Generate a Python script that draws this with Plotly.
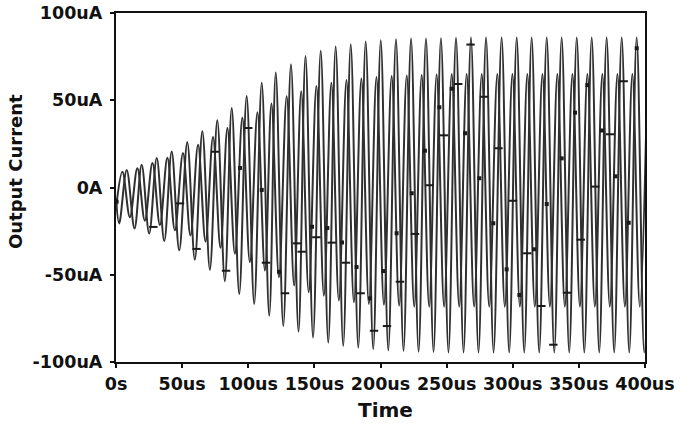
import plotly.graph_objects as go

# Time axis in microseconds, current in microamps.

# Trace A (larger swing): peak times / values and trough times / values
a_peak_t = [8.1, 19.4, 30.8, 42.1, 53.9, 65.3, 76.6, 87.5, 98.8, 110.2, 120.8, 132.3,
            143.3, 154.8, 166.1, 177.5, 188.8, 200.2, 211.7, 223.1, 234.4, 245.7, 257.1,
            268.4, 279.8, 291.6, 303.0, 314.3, 325.7, 337.0, 348.4, 359.7, 371.0, 382.4,
            393.7, 405.0]
a_peak_v = [10.1, 13.0, 16.9, 20.7, 25.9, 32.3, 38.6, 45.5, 52.4, 60.1, 65.9, 70.6,
            75.4, 78.3, 80.8, 82.1, 83.7, 84.4, 85.0, 85.4, 85.4, 85.6, 85.8,
            86.0, 86.0, 86.0, 86.0, 86.0, 86.0, 86.0, 86.0, 86.0, 86.0, 86.0,
            86.0, 86.0]
a_trough_t = [2.4, 14.0, 25.1, 36.5, 47.8, 59.6, 71.0, 82.3, 93.2, 104.5, 115.9, 126.5,
              138.0, 149.0, 160.5, 171.8, 183.2, 194.5, 205.9, 217.4, 228.8, 240.1,
              251.4, 262.8, 274.1, 285.5, 297.3, 308.7, 320.0, 331.4, 342.7, 354.1,
              365.4, 376.7, 388.1, 399.4]
a_trough_v = [-20.6, -23.5, -26.4, -30.7, -36.0, -41.4, -47.1, -53.7, -61.0, -66.7, -73.5,
              -79.3, -82.7, -86.0, -88.9, -90.8, -91.8, -92.7, -93.3, -93.7, -94.1,
              -94.3, -94.5, -94.5, -94.5, -94.5, -94.5, -94.5, -94.5, -94.5, -94.5,
              -94.5, -94.5, -94.5, -94.5, -94.5]
a_start = (0.0, -6.0)

# Trace B (smaller swing, leading phase)
b_peak_t = [4.85, 16.15, 27.55, 38.85, 50.65, 62.05, 73.35, 84.25, 95.55, 106.95, 117.55,
            129.05, 140.05, 151.55, 162.85, 174.25, 185.55, 196.95, 208.45, 219.85,
            231.15, 242.45, 253.85, 265.15, 276.55, 288.35, 299.75, 311.05, 322.45,
            333.75, 345.15, 356.45, 367.75, 379.15, 390.45, 401.8]
b_peak_v = [9.0, 11.0, 14.0, 17.0, 19.7, 24.5, 28.9, 34.1, 39.9, 43.1, 48.1, 52.3, 55.2,
            58.1, 60.0, 61.6, 62.5, 63.3, 63.9, 64.2, 64.5, 64.8, 65.0, 65.0, 65.0,
            65.0, 65.0, 65.0, 65.0, 65.0, 65.0, 65.0, 65.0, 65.0, 65.0, 65.0]
b_trough_t = [10.5, 21.8, 33.2, 44.5, 56.3, 67.7, 79.0, 89.9, 101.2, 112.6, 123.2, 134.7,
              145.7, 157.2, 168.5, 179.9, 191.2, 202.6, 214.1, 225.5, 236.8, 248.1,
              259.5, 270.8, 282.2, 294.0, 305.4, 316.7, 328.1, 339.4, 350.8, 362.1,
              373.4, 384.8, 396.1]
b_trough_v = [-17.0, -19.0, -21.5, -24.5, -27.5, -31.0, -34.5, -37.9, -42.8, -47.6, -51.4,
              -56.2, -60.1, -62.0, -64.8, -65.8, -66.7, -67.2, -67.7, -68.3, -68.3,
              -68.3, -68.3, -68.3, -68.3, -68.3, -68.3, -68.3, -68.3, -68.3, -68.3,
              -68.3, -68.3, -68.3, -68.3]
b_start = (0.0, -12.0)

# Trace markers: square symbols and dash symbols
sq_t = [0.5, 93.8, 110.2, 123.3, 148.2, 159.8, 170.9, 181.9, 192.1, 202.1, 212.2, 223.6,
        233.6, 244.5, 253.8, 263.9, 274.7, 285.3, 295.4, 305.0, 316.1, 325.7, 337.0,
        347.1, 356.4, 367.3, 377.7, 387.7, 393.7]
sq_v = [-8.1, 11.2, -1.4, -48.3, -22.5, -23.2, -31.5, -45.6, -63.5, -47.9, -26.2, -3.3,
        21.1, 46.0, 56.6, 31.1, 5.3, -20.5, -46.9, -61.6, -35.4, -9.5, 16.7,
        42.9, 58.7, 32.7, 6.4, -20.2, 79.8]
dash_t = [28.2, 48.4, 60.9, 74.9, 83.2, 100.0, 113.4, 127.8, 136.9, 140.4, 151.5, 163.1,
          173.9, 185.0, 195.1, 204.9, 214.7, 226.1, 236.9, 248.0, 258.8, 268.1, 278.3,
          289.2, 300.2, 311.0, 321.6, 330.7, 341.0, 351.4, 362.4, 373.5, 383.9]
dash_v = [-22.6, -9.1, -35.2, 20.5, -47.7, 34.1, -43.1, -60.6, -32.0, -36.8, -28.5, -31.6,
          -43.1, -60.6, -82.1, -79.4, -54.0, -26.6, 1.3, 29.9, 59.3, 81.9, 52.0,
          22.5, -7.6, -37.7, -67.9, -90.1, -60.3, -29.9, 0.5, 30.5, 60.9]

x_tickvals = [0, 50, 100, 150, 200, 250, 300, 350, 400]
x_ticktext = ["0s", "50us", "100us", "150us", "200us", "250us", "300us", "350us", "400us"]
y_tickvals = [-100, -50, 0, 50, 100]
y_ticktext = ["-100uA", "-50uA", "0A", "50uA", "100uA"]


def merge_extrema(start, pk_t, pk_v, tr_t, tr_v):
    """Order the start point and all extrema by time."""
    pts = [start] + list(zip(pk_t, pk_v)) + list(zip(tr_t, tr_v))
    pts.sort(key=lambda p: p[0])
    return [p[0] for p in pts], [p[1] for p in pts]


a_t, a_v = merge_extrema(a_start, a_peak_t, a_peak_v, a_trough_t, a_trough_v)
b_t, b_v = merge_extrema(b_start, b_peak_t, b_peak_v, b_trough_t, b_trough_v)

line_style = dict(color="#303030", width=2.0, shape="spline", smoothing=1.0)

fig = go.Figure()
fig.add_trace(go.Scatter(x=a_t, y=a_v, mode="lines", line=line_style, hoverinfo="skip"))
fig.add_trace(go.Scatter(x=b_t, y=b_v, mode="lines", line=line_style, hoverinfo="skip"))
fig.add_trace(go.Scatter(x=sq_t, y=sq_v, mode="markers",
                         marker=dict(symbol="square", size=4, color="#1a1a1a")))
fig.add_trace(go.Scatter(x=dash_t, y=dash_v, mode="markers",
                         marker=dict(symbol="line-ew", size=6,
                                     line=dict(width=2, color="#1a1a1a"))))

title_font = dict(family="DejaVu Sans", color="#111111", weight="bold")

axis_common = dict(showgrid=False, zeroline=False, showline=True, mirror=True,
                   linecolor="#111111", linewidth=2.2, ticks="outside", ticklen=4,
                   tickwidth=1.5, tickcolor="#111111", automargin=False)

fig.update_layout(
    width=691, height=426,
    margin=dict(l=116, r=46, t=13, b=64, autoexpand=False),
    paper_bgcolor="white", plot_bgcolor="white",
    showlegend=False,
    xaxis=dict(range=[0, 400], tickvals=x_tickvals, ticktext=x_ticktext,
               tickfont=dict(size=17.5, **title_font), ticklabelstandoff=1,
               **axis_common),
    yaxis=dict(range=[-100, 100], tickvals=y_tickvals, ticktext=y_ticktext,
               tickfont=dict(size=17.5, **title_font), ticklabelstandoff=4,
               **axis_common),
    annotations=[
        dict(text="Time", xref="paper", yref="paper", x=0.51, y=-0.1375,
             xanchor="center", yanchor="middle", showarrow=False,
             font=dict(size=20, **title_font)),
        dict(text="Output Current", xref="paper", yref="paper", x=-0.191, y=0.547,
             xanchor="center", yanchor="middle", textangle=-90, showarrow=False,
             font=dict(size=18, **title_font)),
    ],
)

fig.write_html("out.html")
